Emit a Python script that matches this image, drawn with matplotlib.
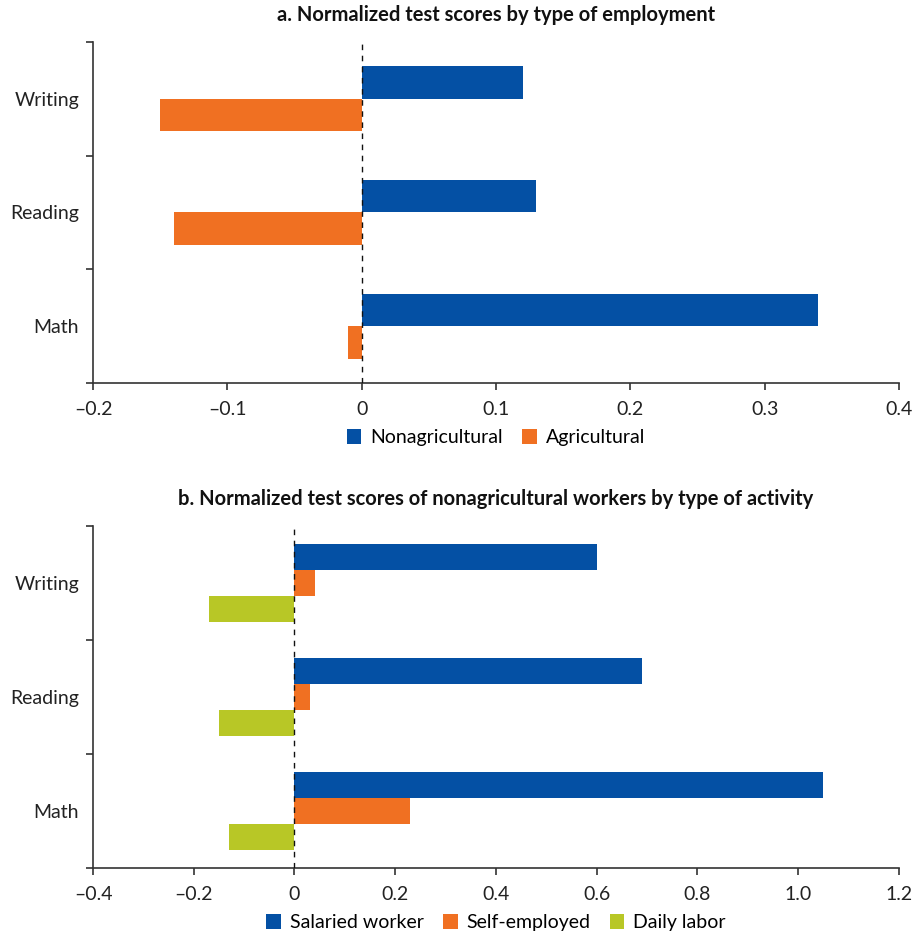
import matplotlib
matplotlib.use("Agg")
import matplotlib.pyplot as plt
import numpy as np

plt.rcParams['font.family'] = ['Lato', 'DejaVu Sans']

# Panel a: test scores by type of employment
subjects = ['Math', 'Reading', 'Writing']
nonagricultural = [0.34, 0.13, 0.12]
agricultural = [-0.01, -0.14, -0.15]
xticks_a = [-0.2, -0.1, 0, 0.1, 0.2, 0.3, 0.4]
xtick_labels_a = ['\u20130.2', '\u20130.1', '0', '0.1', '0.2', '0.3', '0.4']

# Panel b: nonagricultural workers by type of activity
salaried = [1.05, 0.69, 0.60]
self_employed = [0.23, 0.03, 0.04]
daily_labor = [-0.13, -0.15, -0.17]
xticks_b = [-0.4, -0.2, 0, 0.2, 0.4, 0.6, 0.8, 1.0, 1.2]
xtick_labels_b = ['\u20130.4', '\u20130.2', '0', '0.2', '0.4', '0.6', '0.8', '1.0', '1.2']

BLUE = '#0450A4'
ORANGE = '#F07022'
GREEN = '#B8C726'
AXIS = '#333333'
TEXT = '#222222'
FS = 14

fig = plt.figure(figsize=(9.21, 9.34), dpi=100)
ax_a = fig.add_axes([0.101, 0.590, 0.875, 0.365])
ax_b = fig.add_axes([0.101, 0.0707, 0.875, 0.366])

pos = np.arange(len(subjects))


def style_axis(ax, xticks, xlabels):
    ax.set_ylim(-0.5, len(subjects) - 0.5)
    ax.set_xlim(xticks[0], xticks[-1])
    for s in ['top', 'right']:
        ax.spines[s].set_visible(False)
    for s in ['left', 'bottom']:
        ax.spines[s].set_color(AXIS)
        ax.spines[s].set_linewidth(1.2)
    ax.set_xticks(xticks)
    ax.set_xticklabels(xlabels, fontsize=FS, color=TEXT)
    ax.set_yticks(np.arange(-0.5, len(subjects), 1.0))
    ax.set_yticklabels([])
    ax.set_yticks(pos, minor=True)
    ax.set_yticklabels(subjects, minor=True, fontsize=FS, color=TEXT)
    ax.tick_params(axis='y', which='minor', length=0, pad=10)
    ax.tick_params(axis='both', which='major', direction='out', length=5,
                   width=1.2, color=AXIS)
    ax.tick_params(axis='x', pad=8)
    ax.axvline(0, color='#111111', lw=1.0, ls=(0, (4, 4)), zorder=3)


def add_legend(ax, ncol):
    ax.legend(loc='center', bbox_to_anchor=(0.5, -0.16), ncol=ncol, frameon=False,
              fontsize=FS, handlelength=0.75, handleheight=0.8, handletextpad=0.45,
              columnspacing=1.0)


# Panel a bars
h = 0.286
ax_a.barh(pos + h / 2, nonagricultural, height=h, color=BLUE, label='Nonagricultural', zorder=2)
ax_a.barh(pos - h / 2, agricultural, height=h, color=ORANGE, label='Agricultural', zorder=2)
style_axis(ax_a, xticks_a, xtick_labels_a)
ax_a.set_title('a. Normalized test scores by type of employment',
               fontsize=14.5, fontweight='bold', pad=15, color='#111111')
add_legend(ax_a, 2)

# Panel b bars
hb = 0.228
ax_b.barh(pos + hb, salaried, height=hb, color=BLUE, label='Salaried worker', zorder=2)
ax_b.barh(pos, self_employed, height=hb, color=ORANGE, label='Self-employed', zorder=2)
ax_b.barh(pos - hb, daily_labor, height=hb, color=GREEN, label='Daily labor', zorder=2)
style_axis(ax_b, xticks_b, xtick_labels_b)
ax_b.set_title('b. Normalized test scores of nonagricultural workers by type of activity',
               fontsize=14.5, fontweight='bold', pad=15, color='#111111')
add_legend(ax_b, 3)

fig.savefig('out.png', dpi=100)
